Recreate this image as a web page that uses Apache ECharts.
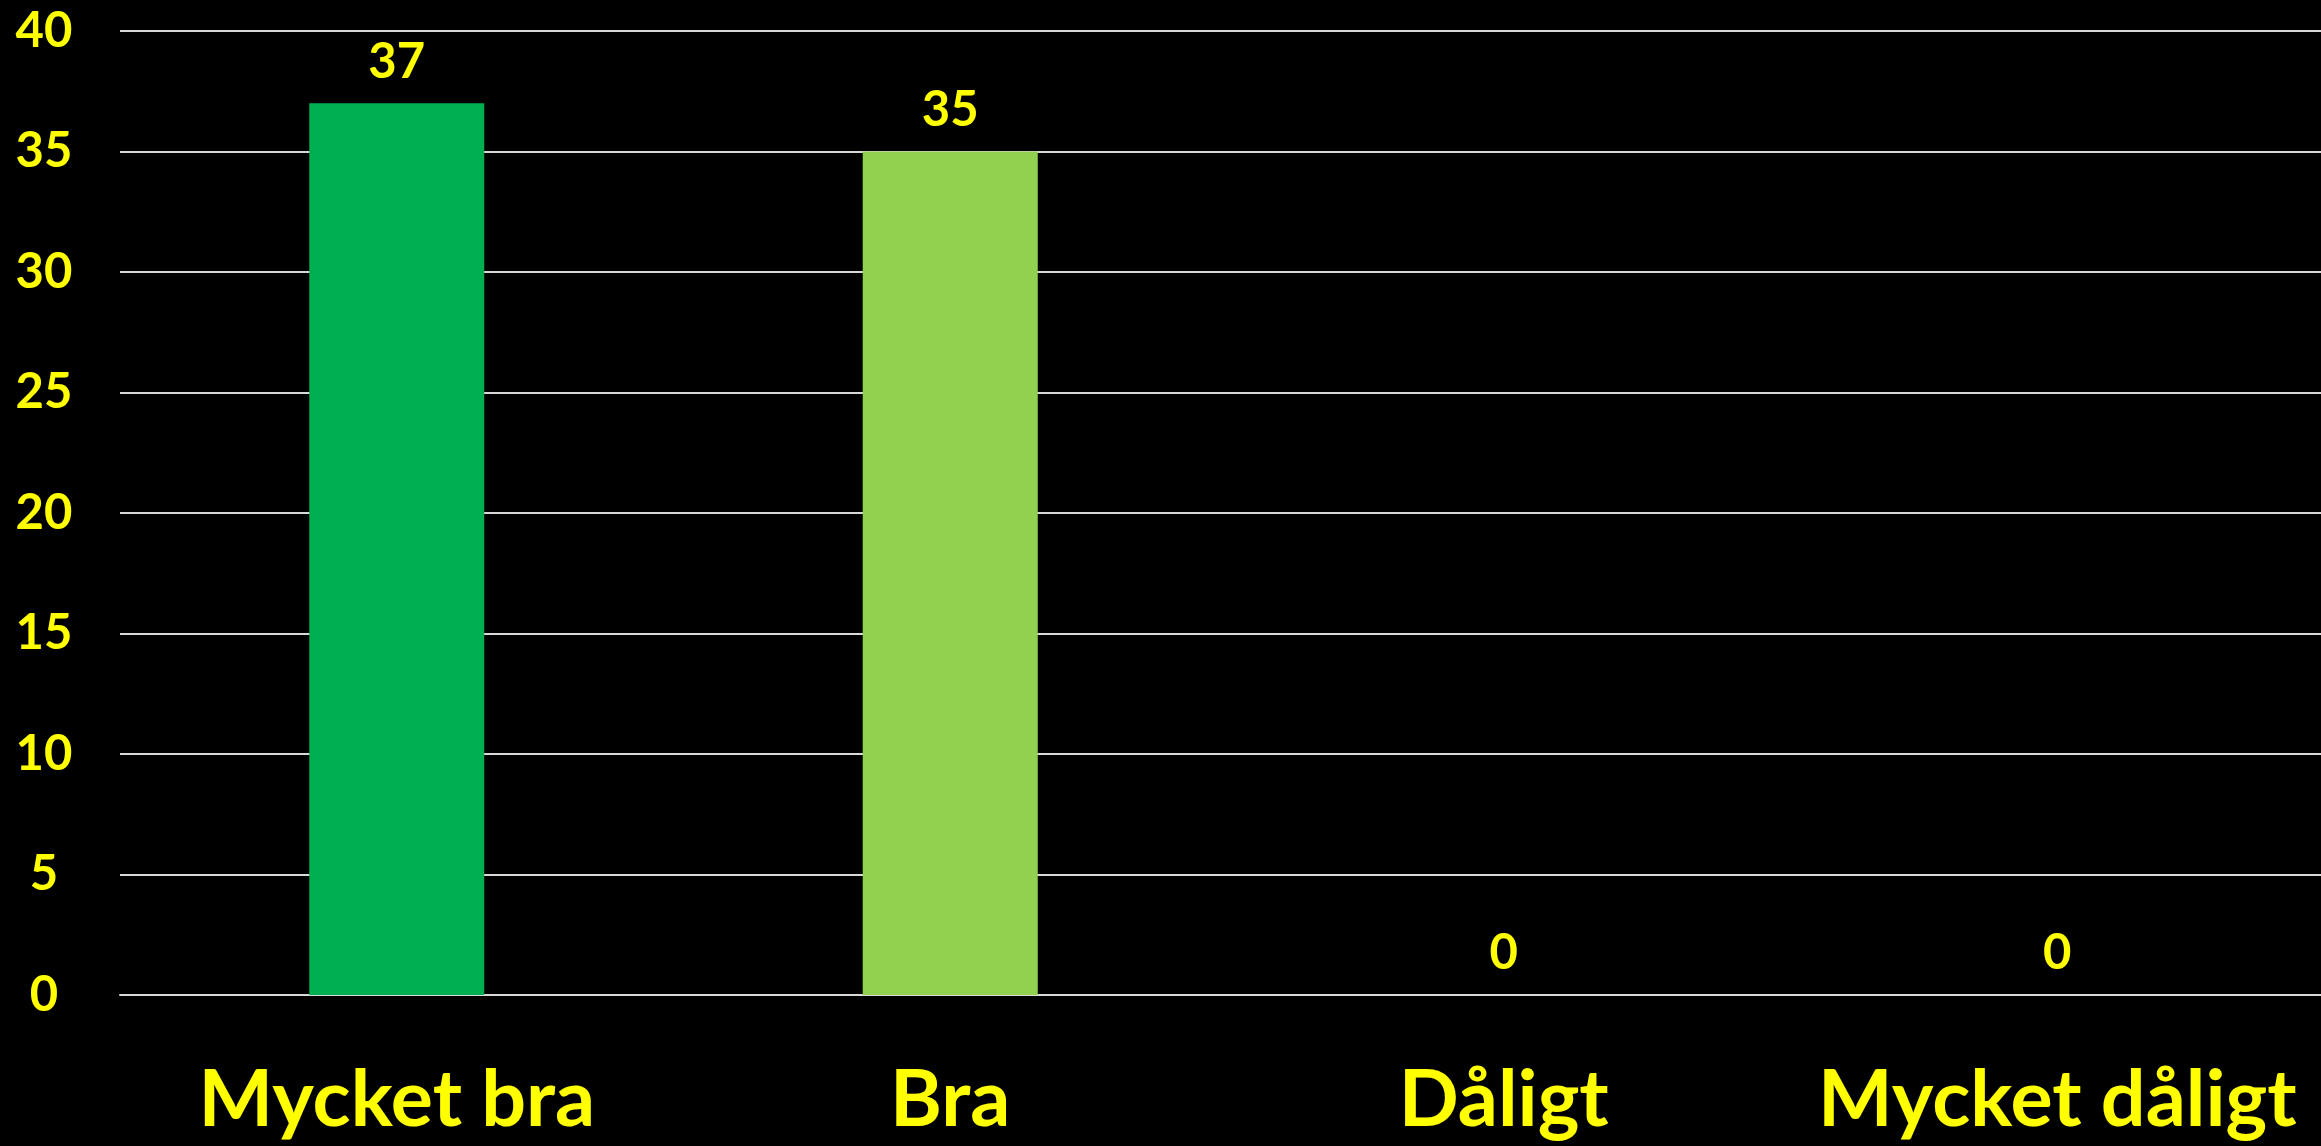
<!DOCTYPE html>
<html>
<head>
<meta charset="utf-8">
<script src="https://cdn.jsdelivr.net/npm/echarts@6/dist/echarts.min.js"></script>
<style>
html,body{margin:0;padding:0;background:#000;}
#chart{width:2321px;height:1146px;}
</style>
</head>
<body>
<div id="chart"></div>
<script>
const categories = ["Mycket bra", "Bra", "Dåligt", "Mycket dåligt"];
const values = [37, 35, 0, 0];
const barColors = ["#00B050", "#92D050", "#FF0000", "#C00000"];
const yTicks = { min: 0, max: 40, interval: 5 };

const chart = echarts.init(document.getElementById('chart'), null, { renderer: 'canvas' });
chart.setOption({
  backgroundColor: '#000000',
  animation: false,
  grid: { left: 120, right: -13, top: 31, bottom: 151, containLabel: false, outerBoundsMode: 'none' },
  xAxis: {
    type: 'category',
    data: categories,
    axisLine: { show: true, lineStyle: { color: '#d9d9d9', width: 2 } },
    axisTick: { show: false },
    axisLabel: {
      color: '#FFFF00',
      fontFamily: 'Lato',
      fontWeight: 'bold',
      fontSize: 79,
      margin: 66,
      interval: 0
    }
  },
  yAxis: {
    type: 'value',
    min: yTicks.min, max: yTicks.max, interval: yTicks.interval,
    axisLine: { show: false },
    axisTick: { show: false },
    splitLine: { show: true, lineStyle: { color: '#d9d9d9', width: 2 } },
    axisLabel: {
      color: '#FFFF00',
      fontFamily: 'Lato',
      fontWeight: 'bold',
      fontSize: 49,
      align: 'center',
      margin: 76
    }
  },
  series: [{
    type: 'bar',
    data: values.map((v, i) => ({ value: v, itemStyle: { color: barColors[i] } })),
    barWidth: 175,
    label: {
      show: true,
      position: 'top',
      distance: 17,
      color: '#FFFF00',
      fontFamily: 'Lato',
      fontWeight: 'bold',
      fontSize: 49
    }
  }]
});
</script>
</body>
</html>
